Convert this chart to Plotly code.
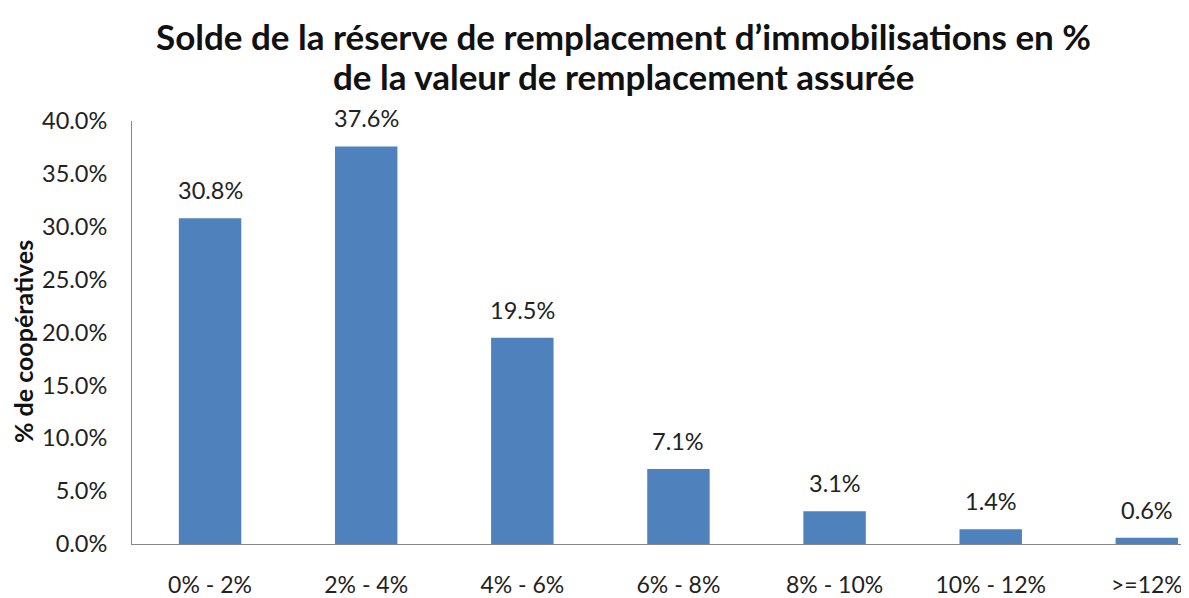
import plotly.graph_objects as go

categories = ["0% - 2%", "2% - 4%", "4% - 6%", "6% - 8%", "8% - 10%", "10% - 12%", ">=12%"]
values = [0.308, 0.376, 0.195, 0.071, 0.031, 0.014, 0.006]
labels = ["30.8%", "37.6%", "19.5%", "7.1%", "3.1%", "1.4%", "0.6%"]
tick_vals = [0, 0.05, 0.10, 0.15, 0.20, 0.25, 0.30, 0.35, 0.40]
title_lines = ["Solde de la réserve de remplacement d’immobilisations en %",
               "de la valeur de remplacement assurée"]

FONT = "Lato, Open Sans, sans-serif"
OFF = 8  # page body margin
W, H = 1189 - OFF, 598 - OFF
L, T, B = 132 - OFF, 121 - OFF, 598 - 544
PW, PH = W - L, H - T - B

def px_x(x):
    return (x - OFF - L) / PW

def px_y(y):
    return (H - B - (y - OFF)) / PH

fig = go.Figure(go.Bar(
    x=categories, y=values,
    marker=dict(color="#4F81BD", line=dict(width=0)),
    width=0.4,
))

for c, v, t in zip(categories, values, labels):
    fig.add_annotation(x=c, y=v, text=t, showarrow=False, yanchor="bottom",
                       yshift=12, font=dict(size=23.5, color="#222", family=FONT))

for line, yc in zip(title_lines, [36, 76]):
    fig.add_annotation(
        text="<b>" + line + "</b>", xref="paper", yref="paper",
        x=px_x(623), y=px_y(yc), xanchor="center", yanchor="middle",
        showarrow=False, font=dict(size=35, color="#111", family=FONT),
    )
fig.add_annotation(
    text="<b>% de coopératives</b>", textangle=-90,
    xref="paper", yref="paper", x=px_x(23), y=px_y(342),
    xanchor="center", yanchor="middle", showarrow=False,
    font=dict(size=25, color="#111", family=FONT),
)

fig.update_layout(
    width=W, height=H,
    margin=dict(l=L, r=0, t=T, b=B, autoexpand=False),
    paper_bgcolor="white", plot_bgcolor="white",
    font=dict(family=FONT, color="#222"),
    showlegend=False,
    xaxis=dict(
        range=[-0.5, 6.27], showline=True, linecolor="#888", linewidth=1,
        showgrid=False, ticks="", tickfont=dict(size=23), ticklabelstandoff=20,
        automargin=False,
    ),
    yaxis=dict(
        range=[0, 0.4], tickvals=tick_vals, tickformat=".1%",
        showline=True, linecolor="#888", linewidth=1, showgrid=False,
        ticks="", tickfont=dict(size=23.5), ticklabelstandoff=19, zeroline=False,
        automargin=False,
    ),
)
fig.write_html("out.html")
